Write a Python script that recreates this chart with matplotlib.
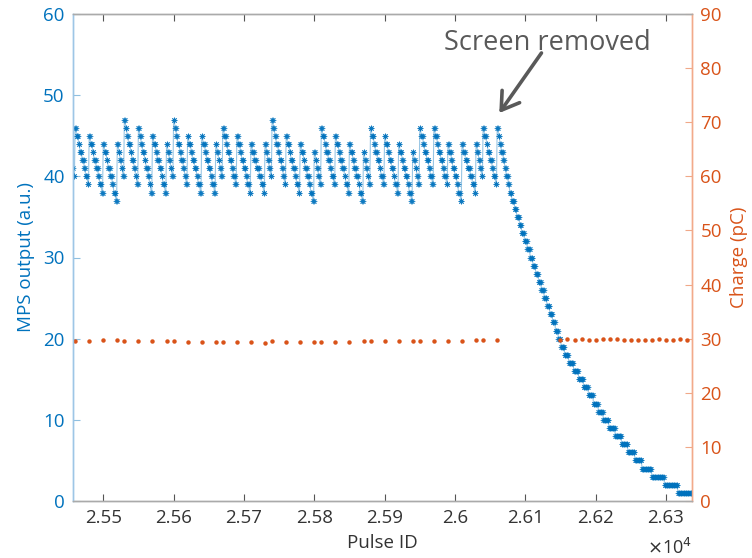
import numpy as np
import matplotlib
matplotlib.use('Agg')
import matplotlib.pyplot as plt

plt.rcParams['font.family'] = ['Open Sans', 'DejaVu Sans']

# ---------------- data ----------------
lead_pulse = [25457, 25458, 25459]
lead_mps = [41, 40, 40]

tooth_start = [25460, 25480, 25500, 25520, 25530, 25550, 25570, 25590, 25600,
               25620, 25640, 25660, 25670, 25690, 25710, 25730, 25740, 25760,
               25780, 25800, 25810, 25830, 25850, 25870, 25880, 25900, 25920,
               25940, 25950, 25970, 25990, 26010, 26030, 26040]
tooth_peak = [46, 45, 44, 44, 47, 46, 45, 44, 47, 45, 45, 44, 46, 45, 44, 44, 47,
              45, 44, 43, 46, 45, 44, 43, 46, 45, 44, 43, 46, 46, 44, 44, 44, 46]
tooth_bottom = [39, 38, 37, 40, 39, 38, 38, 40, 39, 38, 38, 40, 39, 38, 38, 40, 39,
                38, 37, 39, 39, 38, 37, 39, 39, 38, 37, 39, 39, 39, 37, 38, 40, 39]

decay_level = [46, 45, 44, 43, 42, 41, 40, 39, 38, 37, 36, 35, 34, 33, 32, 31,
               30, 29, 28, 27, 26, 25, 24, 23, 22, 21, 20, 19, 18, 17, 16, 15,
               14, 13, 12, 11, 10, 9, 8, 7, 6, 5, 4, 3, 2, 1]
decay_start = [26060, 26062, 26064, 26066, 26069, 26071, 26073, 26076, 26078,
               26081, 26085, 26088, 26092, 26095, 26099, 26103, 26107, 26111,
               26115, 26119, 26123, 26127, 26131, 26135, 26139, 26143, 26147,
               26151, 26156, 26162, 26169, 26176, 26183, 26190, 26197, 26204,
               26211, 26219, 26228, 26237, 26246, 26256, 26266, 26280, 26298,
               26317]
decay_end = 26337

charge_pulse = tooth_start + [26060,
                26150, 26160, 26170, 26180, 26190, 26200, 26210, 26220, 26230,
                26240, 26250, 26260, 26270, 26280, 26290, 26300, 26310, 26320,
                26330]
charge_pc = [29.6, 29.6, 29.7, 29.7, 29.6, 29.6, 29.6, 29.5, 29.5, 29.4, 29.4,
             29.4, 29.4, 29.4, 29.4, 29.2, 29.5, 29.4, 29.4, 29.4, 29.4, 29.4,
             29.4, 29.5, 29.5, 29.5, 29.6, 29.5, 29.5, 29.6, 29.6, 29.6, 29.7,
             29.7, 29.7,
             29.8, 29.9, 29.8, 29.95, 29.8, 29.8, 29.85, 29.85, 29.85, 29.8,
             29.8, 29.75, 29.8, 29.8, 29.85, 29.8, 29.8, 29.85, 29.8]

xtick_vals = [25500, 25600, 25700, 25800, 25900, 26000, 26100, 26200, 26300]
xtick_labels = ['2.55', '2.56', '2.57', '2.58', '2.59', '2.6', '2.61', '2.62', '2.63']
left_ticks = [0, 10, 20, 30, 40, 50, 60]
right_ticks = [0, 10, 20, 30, 40, 50, 60, 70, 80, 90]

# ---------------- expand blue series per pulse ----------------
pulses = list(lead_pulse)
mps = list(lead_mps)
bounds = tooth_start + [decay_start[0]]
for i in range(len(tooth_start)):
    n = bounds[i + 1] - bounds[i]
    for k in range(n):
        pulses.append(bounds[i] + k)
        mps.append(round(tooth_peak[i] - (tooth_peak[i] - tooth_bottom[i]) * k / (n - 1)))
for j, lvl in enumerate(decay_level):
    end = decay_start[j + 1] if j + 1 < len(decay_start) else decay_end + 1
    for p in range(decay_start[j], end):
        pulses.append(p)
        mps.append(lvl)

BLUE = '#0072BD'
ORANGE = '#D95319'

fig = plt.figure(figsize=(7.52, 5.58), dpi=100)
ax = fig.add_axes([73 / 752, 57 / 558, 619 / 752, 487 / 558])
ax2 = ax.twinx()

ax.plot(pulses, mps, '-', color=BLUE, lw=0.8, alpha=0.4, zorder=2)
ax.plot(pulses, mps, linestyle='none', marker=(8, 2, 0), markersize=4.0,
        markeredgewidth=0.5, color=BLUE, alpha=0.75, zorder=3)
ax2.plot(charge_pulse, charge_pc, linestyle='none', marker='o', markersize=3.2,
         color=ORANGE, markeredgewidth=0)

ax.set_xlim(25457, 26337)
ax.set_ylim(0, 60)
ax2.set_ylim(0, 90)
ax.set_xticks(xtick_vals)
ax.set_xticklabels(xtick_labels)
ax.set_yticks(left_ticks)
ax2.set_yticks(right_ticks)

ax.tick_params(axis='x', direction='in', top=True, length=5, width=0.8,
               colors='#555555', labelcolor='#333333', labelsize=13.5, pad=6)
ax.tick_params(axis='y', direction='in', length=5, width=0.8, colors='#8fbfe0',
               labelcolor=BLUE, labelsize=13.5, pad=6)
ax2.tick_params(axis='y', direction='in', length=5, width=0.8, colors='#f0a888',
                labelcolor=ORANGE, labelsize=13.5, pad=6)

for a in (ax, ax2):
    a.spines['top'].set_color('#aaaaaa')
    a.spines['bottom'].set_color('#aaaaaa')
    a.spines['left'].set_color('#9ec6e6')
    a.spines['right'].set_color('#f2aa8a')
    for s in a.spines.values():
        s.set_linewidth(1.0)

ax.set_xlabel('Pulse ID', fontsize=13.5, color='#333333', labelpad=5)
ax.set_ylabel('MPS output (a.u.)', fontsize=13.5, color=BLUE, labelpad=6)
ax2.set_ylabel('Charge (pC)', fontsize=13.5, color=ORANGE, labelpad=6)

fig.text(692 / 752, 1 - 548 / 558, r'$\times$10$^4$', ha='right', va='center',
         fontsize=13, color='#333333')

ax.annotate('', xy=(26063, 47.8), xytext=(26123, 55.2),
            arrowprops=dict(arrowstyle='->, head_length=0.55, head_width=0.35',
                            lw=2.6, color='#595959', mutation_scale=22,
                            shrinkA=0, shrinkB=0))
ax.text(26131, 56.4, 'Screen removed', fontsize=19.5, color='#595959',
        ha='center', va='center')

fig.savefig('out.png', dpi=100)
